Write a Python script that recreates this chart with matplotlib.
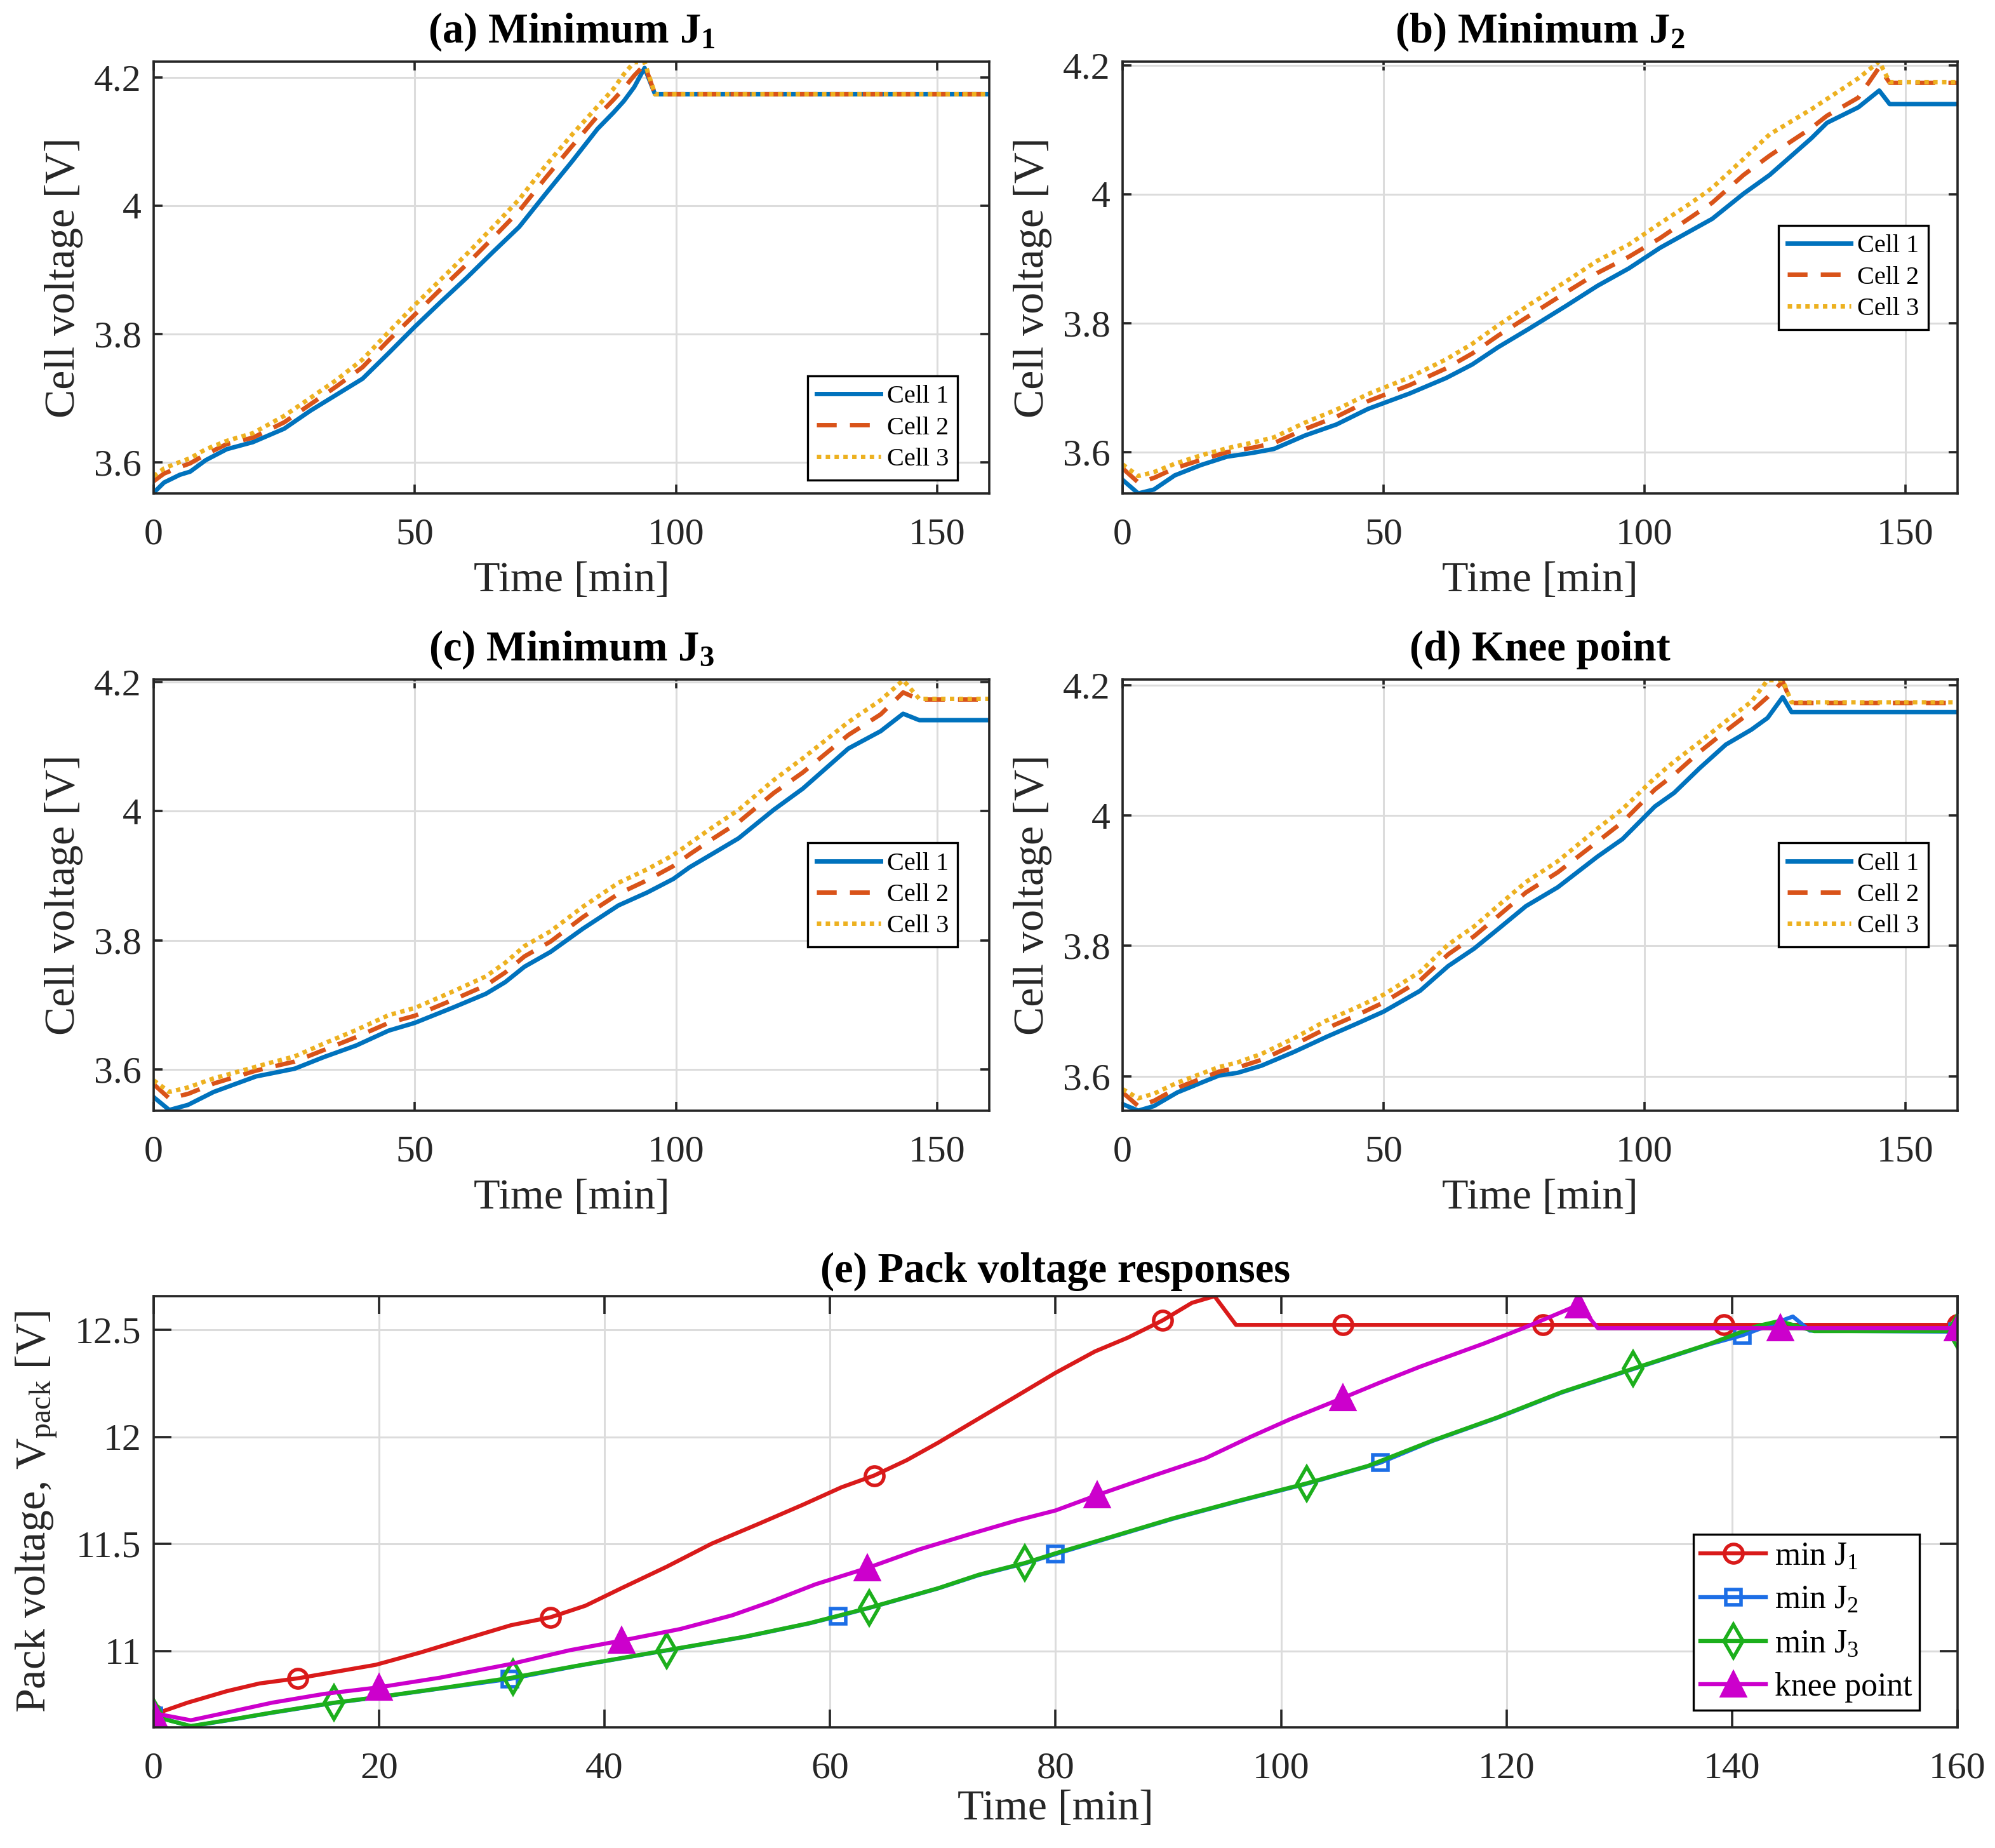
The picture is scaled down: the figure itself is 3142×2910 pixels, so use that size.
import matplotlib
matplotlib.use('Agg')
import matplotlib.pyplot as plt
from matplotlib.lines import Line2D
from matplotlib.ticker import FormatStrFormatter

plt.rcParams['font.family'] = 'Liberation Serif'
plt.rcParams['mathtext.fontset'] = 'custom'
plt.rcParams['mathtext.rm'] = 'Liberation Serif'
plt.rcParams['mathtext.it'] = 'Liberation Serif:italic'
plt.rcParams['mathtext.bf'] = 'Liberation Serif:bold'

# ---- (a) minimum J1 ----
t_a = [0, 2, 5, 7, 10, 14, 19, 25, 30, 35, 40, 45, 50, 55, 60, 65, 70, 75, 80, 85, 88, 90, 92, 94, 96, 160]
a_cell1 = [3.552, 3.568, 3.580, 3.585, 3.603, 3.620, 3.631, 3.652, 3.680, 3.705, 3.730, 3.770, 3.811, 3.850,
           3.888, 3.928, 3.967, 4.018, 4.068, 4.120, 4.145, 4.163, 4.185, 4.215, 4.174, 4.174]
a_cell2 = [3.570, 3.582, 3.592, 3.598, 3.612, 3.628, 3.638, 3.662, 3.690, 3.718, 3.748, 3.790, 3.830, 3.870,
           3.909, 3.950, 3.992, 4.043, 4.092, 4.140, 4.165, 4.183, 4.203, 4.220, 4.174, 4.174]
a_cell3 = [3.578, 3.590, 3.600, 3.606, 3.620, 3.633, 3.645, 3.672, 3.700, 3.728, 3.760, 3.803, 3.845, 3.885,
           3.925, 3.967, 4.010, 4.062, 4.110, 4.155, 4.182, 4.205, 4.224, 4.224, 4.174, 4.174]

# ---- (b) minimum J2 ----
t_b = [0, 3, 6, 10, 15, 20, 25, 29, 35, 41, 47, 55, 62, 67, 72, 78, 85, 91, 97, 103, 109, 113, 119, 124,
       132, 135, 141, 145, 147, 160]
b_cell1 = [3.557, 3.536, 3.542, 3.564, 3.580, 3.593, 3.599, 3.605, 3.626, 3.643, 3.667, 3.691, 3.715, 3.736,
           3.763, 3.792, 3.827, 3.858, 3.885, 3.917, 3.944, 3.962, 4.001, 4.030, 4.087, 4.111, 4.135, 4.161,
           4.140, 4.140]
b_cell2 = [3.575, 3.553, 3.560, 3.575, 3.588, 3.600, 3.607, 3.614, 3.636, 3.655, 3.679, 3.704, 3.730, 3.753,
           3.781, 3.812, 3.848, 3.878, 3.903, 3.932, 3.965, 3.987, 4.030, 4.060, 4.103, 4.122, 4.150, 4.197,
           4.173, 4.173]
b_cell3 = [3.581, 3.563, 3.569, 3.582, 3.595, 3.606, 3.615, 3.623, 3.646, 3.666, 3.690, 3.716, 3.744, 3.768,
           3.797, 3.829, 3.865, 3.897, 3.922, 3.955, 3.987, 4.010, 4.055, 4.093, 4.132, 4.148, 4.180, 4.206,
           4.174, 4.174]

# ---- (c) minimum J3 ----
t_c = [0, 3, 6.6, 11.5, 19.6, 22.7, 27, 32.6, 38.8, 45, 50, 57.4, 63.6, 67.3, 71, 76, 82.2, 89, 94.5, 99.5,
       102.6, 107, 112, 118.7, 124.3, 133, 139.2, 143.5, 146.6, 160]
c_cell1 = [3.557, 3.537, 3.545, 3.565, 3.589, 3.594, 3.601, 3.619, 3.637, 3.660, 3.672, 3.696, 3.717, 3.735,
           3.759, 3.782, 3.818, 3.854, 3.874, 3.895, 3.913, 3.934, 3.958, 4.002, 4.035, 4.097, 4.124, 4.151,
           4.141, 4.141]
c_cell2 = [3.577, 3.555, 3.562, 3.578, 3.598, 3.604, 3.612, 3.630, 3.650, 3.672, 3.683, 3.708, 3.730, 3.750,
           3.775, 3.798, 3.836, 3.872, 3.893, 3.915, 3.933, 3.957, 3.983, 4.028, 4.060, 4.118, 4.150, 4.184,
           4.173, 4.173]
c_cell3 = [3.583, 3.565, 3.572, 3.586, 3.604, 3.611, 3.620, 3.640, 3.661, 3.684, 3.695, 3.721, 3.744, 3.765,
           3.791, 3.814, 3.852, 3.889, 3.910, 3.932, 3.950, 3.975, 4.002, 4.048, 4.082, 4.138, 4.172, 4.203,
           4.174, 4.174]

# ---- (d) knee point ----
t_d = [0, 3, 6, 10.5, 18.5, 22, 26.6, 32.8, 39, 45, 50, 57, 62.4, 67.4, 72.3, 77.3, 83.4, 91, 95.8, 102,
       105.7, 110.6, 115.6, 120.5, 123.6, 126.5, 128.2, 160]
d_cell1 = [3.557, 3.547, 3.554, 3.575, 3.601, 3.605, 3.616, 3.637, 3.660, 3.681, 3.699, 3.731, 3.769, 3.796,
           3.828, 3.861, 3.890, 3.937, 3.964, 4.014, 4.035, 4.073, 4.109, 4.132, 4.150, 4.182, 4.159, 4.159]
d_cell2 = [3.575, 3.554, 3.562, 3.582, 3.607, 3.613, 3.625, 3.648, 3.673, 3.694, 3.713, 3.747, 3.787, 3.815,
           3.848, 3.882, 3.913, 3.960, 3.990, 4.040, 4.063, 4.098, 4.130, 4.160, 4.182, 4.206, 4.173, 4.173]
d_cell3 = [3.580, 3.566, 3.573, 3.590, 3.614, 3.621, 3.634, 3.658, 3.685, 3.706, 3.725, 3.760, 3.802, 3.830,
           3.864, 3.898, 3.930, 3.980, 4.010, 4.058, 4.083, 4.113, 4.145, 4.175, 4.208, 4.208, 4.174, 4.174]

# ---- (e) pack voltage ----
t_j1 = [0, 3, 6.5, 9.4, 12.8, 16.2, 19.7, 23.7, 27.7, 31.7, 35.2, 38.3, 41.5, 45.5, 49.5, 53.6, 57.6, 61,
        63.9, 66.8, 69.6, 72.5, 76.5, 80, 83.5, 86.4, 89.5, 92.1, 94.1, 96, 105.5, 123.2, 139.3, 160]
v_j1 = [10.704, 10.759, 10.813, 10.849, 10.873, 10.904, 10.936, 10.994, 11.058, 11.121, 11.158, 11.212,
        11.294, 11.394, 11.502, 11.593, 11.684, 11.765, 11.820, 11.892, 11.974, 12.065, 12.190, 12.300,
        12.400, 12.464, 12.545, 12.627, 12.658, 12.524, 12.524, 12.524, 12.524, 12.524]
mk_j1 = [0, 4, 10, 18, 26, 30, 31, 32, 33]

t_j2 = [0, 3.3, 6.5, 10.5, 16, 20, 25.4, 31.6, 37.5, 45.5, 52.4, 58.2, 60.7, 63.5, 69.6, 73.2, 77.3, 80,
        84.7, 90.4, 96.2, 102.3, 108.8, 113.4, 119.2, 124.9, 131.2, 138.1, 140.9, 145.4, 146.9, 160]
v_j2 = [10.697, 10.649, 10.676, 10.712, 10.758, 10.785, 10.825, 10.870, 10.930, 11.003, 11.066, 11.130,
        11.163, 11.202, 11.293, 11.355, 11.410, 11.453, 11.528, 11.618, 11.700, 11.782, 11.880, 11.981,
        12.090, 12.208, 12.317, 12.435, 12.475, 12.563, 12.497, 12.492]
mk_j2 = [0, 7, 12, 17, 22, 28, 31]

t_j3 = [0, 3.3, 6.5, 10.5, 16, 20, 25.4, 31.9, 37.5, 45.5, 52.4, 58.2, 63.5, 69.6, 73.2, 77.3, 80, 84.7,
        90.4, 96.2, 102.3, 107.7, 113.4, 119.2, 124.9, 131.2, 138.1, 142.2, 144.2, 147.3, 160]
v_j3 = [10.695, 10.650, 10.677, 10.713, 10.759, 10.786, 10.826, 10.877, 10.931, 11.004, 11.067, 11.131,
        11.203, 11.294, 11.357, 11.412, 11.457, 11.530, 11.620, 11.702, 11.784, 11.865, 11.983, 12.092,
        12.210, 12.319, 12.437, 12.518, 12.542, 12.495, 12.495]
mk_j3 = [0, 4, 7, 9, 12, 15, 20, 25, 30]

t_knee = [0, 3.3, 6.5, 10.5, 15.1, 20, 25.4, 31.7, 36.9, 41.5, 46.7, 51.3, 54.7, 58.7, 63.3, 67.9, 72.5,
          76.6, 80, 83.7, 88.7, 93.3, 97.3, 100.8, 105.5, 108.8, 112.3, 118, 121.5, 124.4, 126.4, 128.1,
          144.3, 160]
v_knee = [10.710, 10.677, 10.713, 10.759, 10.800, 10.831, 10.876, 10.940, 11.004, 11.049, 11.103, 11.167,
          11.230, 11.312, 11.388, 11.475, 11.548, 11.611, 11.657, 11.729, 11.820, 11.901, 12.001, 12.083,
          12.183, 12.255, 12.328, 12.437, 12.509, 12.573, 12.618, 12.509, 12.509, 12.509]
mk_knee = [0, 5, 9, 14, 19, 24, 30, 32, 33]

cell_names = ['Cell 1', 'Cell 2', 'Cell 3']
pack_names = [r'min J$_\mathrm{1}$', r'min J$_\mathrm{2}$', r'min J$_\mathrm{3}$', 'knee point']

C1 = (0.0, 0.447, 0.741)
C2 = (0.85, 0.325, 0.098)
C3 = (0.929, 0.694, 0.125)
AX = '#262626'
GRID = '#dcdcdc'


def style_axes(ax, ticklen, xpad):
    ax.grid(True, color=GRID, lw=1.1)
    ax.set_axisbelow(True)
    for s in ax.spines.values():
        s.set_linewidth(1.3)
        s.set_color(AX)
    ax.tick_params(direction='in', top=True, right=True, length=ticklen, width=1.3,
                   color=AX, labelcolor=AX, labelsize=21.5)
    ax.tick_params(axis='x', pad=xpad)
    ax.tick_params(axis='y', pad=7)
    ax.yaxis.set_major_formatter(FormatStrFormatter('%g'))


def cell_panel(rect, t, c1, c2, c3, ylim, title, loc, anchor):
    ax = fig.add_axes(rect)
    ax.plot(t, c1, color=C1, lw=2.5, ls='-', label=cell_names[0])
    ax.plot(t, c2, color=C2, lw=2.5, ls=(0, (4.5, 3)), label=cell_names[1])
    ax.plot(t, c3, color=C3, lw=2.5, ls=(0, (1, 1)), label=cell_names[2])
    ax.set_xlim(0, 160)
    ax.set_ylim(*ylim)
    ax.set_xticks([0, 50, 100, 150])
    ax.set_yticks([3.6, 3.8, 4.0, 4.2])
    style_axes(ax, 5, 14)
    ax.set_xlabel('Time [min]', fontsize=24.5, color=AX, labelpad=5)
    ax.set_ylabel('Cell voltage [V]', fontsize=24.5, color=AX, labelpad=6)
    ax.set_title(title, fontsize=24, fontweight='bold', color='black', pad=11)
    leg = ax.legend(loc=loc, bbox_to_anchor=anchor, borderaxespad=0, fontsize=14.5,
                    handlelength=2.5, handletextpad=0.25, labelspacing=0.3, borderpad=0.35,
                    fancybox=False, framealpha=1, edgecolor='black')
    leg.get_frame().set_linewidth(1.2)
    return ax


fig = plt.figure(figsize=(15.71, 14.55), dpi=200)

cell_panel([0.0770, 0.7330, 0.4189, 0.2337], t_a, a_cell1, a_cell2, a_cell3, (3.551, 4.225),
           r'(a) Minimum J$_\mathbf{1}$', 'lower right', (0.962, 0.031))
cell_panel([0.5627, 0.7330, 0.4185, 0.2337], t_b, b_cell1, b_cell2, b_cell3, (3.536, 4.206),
           r'(b) Minimum J$_\mathbf{2}$', 'center right', (0.965, 0.5))
cell_panel([0.0770, 0.3990, 0.4189, 0.2333], t_c, c_cell1, c_cell2, c_cell3, (3.536, 4.204),
           r'(c) Minimum J$_\mathbf{3}$', 'center right', (0.962, 0.5))
cell_panel([0.5627, 0.3990, 0.4185, 0.2333], t_d, d_cell1, d_cell2, d_cell3, (3.547, 4.209),
           '(d) Knee point', 'center right', (0.965, 0.5))

# ---- pack panel ----
RED = '#d91a1a'
BLUE = '#1c6ee6'
GREEN = '#1caf1c'
MAG = '#cc00cc'
lw_e = 2.3
ax = fig.add_axes([0.0770, 0.0653, 0.9042, 0.2333])
ax.plot(t_j1, v_j1, color=RED, lw=lw_e, marker='o', ms=10.5, mfc='none', mew=2.0, markevery=mk_j1)
ax.plot(t_j2, v_j2, color=BLUE, lw=lw_e, marker='s', ms=8.5, mfc='none', mew=2.0, markevery=mk_j2)
ax.plot(t_j3, v_j3, color=GREEN, lw=lw_e, marker='d', ms=13, mfc='none', mew=2.0, markevery=mk_j3)
ax.plot(t_knee, v_knee, color=MAG, lw=lw_e, marker='^', ms=13.5, mfc=MAG, mew=1.5, markevery=mk_knee)
ax.set_xlim(0, 160)
ax.set_ylim(10.644, 12.658)
ax.set_xticks(range(0, 161, 20))
ax.set_yticks([11, 11.5, 12, 12.5])
style_axes(ax, 10, 14)
ax.set_xlabel('Time [min]', fontsize=24.5, color=AX, labelpad=2)
ax.set_ylabel(r'Pack voltage, V$_\mathrm{pack}$ [V]', fontsize=24.5, color=AX, labelpad=9)
ax.set_title('(e) Pack voltage responses', fontsize=24, fontweight='bold', color='black', pad=8)

handles = [
    Line2D([], [], color=RED, lw=lw_e, marker='o', ms=10.5, mfc='none', mew=2.0),
    Line2D([], [], color=BLUE, lw=lw_e, marker='s', ms=8.5, mfc='none', mew=2.0),
    Line2D([], [], color=GREEN, lw=lw_e, marker='d', ms=13, mfc='none', mew=2.0),
    Line2D([], [], color=MAG, lw=lw_e, marker='^', ms=13.5, mfc=MAG, mew=1.5),
]
leg = ax.legend(handles, pack_names, loc='lower right', bbox_to_anchor=(0.979, 0.040), borderaxespad=0,
                fontsize=18.6, handlelength=2.0, handletextpad=0.27, labelspacing=0.4, borderpad=0.22,
                numpoints=1, fancybox=False, framealpha=1, edgecolor='black')
leg.get_frame().set_linewidth(1.2)

fig.savefig('out.png', dpi=200)
